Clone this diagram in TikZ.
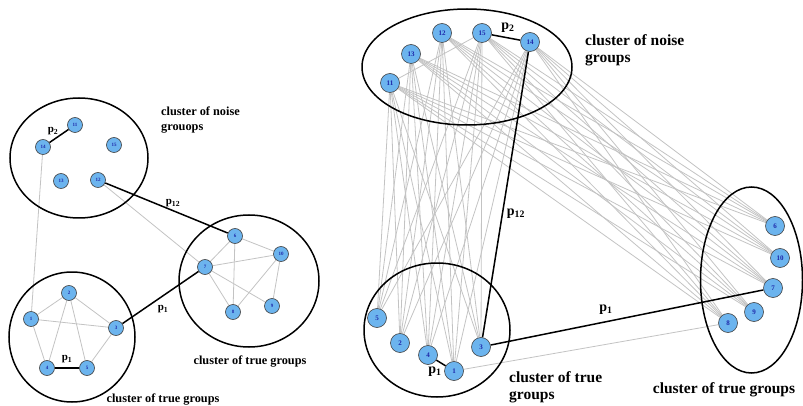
\documentclass[tikz,border=0pt]{standalone}
\usepackage{fontspec}
\setmainfont{Liberation Serif}
\usetikzlibrary{backgrounds}
\definecolor{nodefill}{RGB}{108,180,238}
\definecolor{numcol}{RGB}{30,40,170}
\definecolor{edgegray}{RGB}{195,195,195}
\tikzset{
 sn/.style={circle, draw=black!75, fill=nodefill, line width=0.6pt, minimum size=15pt, inner sep=0pt, text=numcol, font=\bfseries\fontsize{5}{5}\selectfont},
 bn/.style={sn, minimum size=19pt, font=\bfseries\fontsize{7}{7}\selectfont},
 weak/.style={draw=edgegray, line width=0.8pt},
 strong/.style={draw=black, line width=1.5pt},
 clus/.style={draw=black, line width=1.5pt},
 lbl/.style={font=\bfseries\fontsize{12.3}{15}\selectfont, align=left, inner sep=0pt},
 biglbl/.style={font=\bfseries\fontsize{15.5}{17}\selectfont, align=left, inner sep=0pt},
 plbl/.style={font=\bfseries\fontsize{11}{11}\selectfont, inner sep=0pt},
 bplbl/.style={font=\bfseries\fontsize{14}{14}\selectfont, inner sep=0pt},
}
\begin{document}
\begin{tikzpicture}[x=1pt,y=-1pt]
\useasboundingbox (0,0) rectangle (803,406);
% ---------- left panel clusters ----------
\draw[clus] (79,158) ellipse [x radius=69, y radius=60];
\draw[clus] (72,337) ellipse [x radius=63, y radius=65];
\draw[clus] (249,281) ellipse [x radius=70, y radius=66];
% ---------- right panel clusters ----------
\draw[clus] (467,67) ellipse [x radius=105, y radius=58];
\draw[clus] (437,330) ellipse [x radius=73, y radius=67];
\draw[clus] (751.5,280) ellipse [x radius=51, y radius=93];
% ---------- left panel nodes ----------
\node[sn] (L11) at (75,125) {11};
\node[sn] (L14) at (43,147) {14};
\node[sn] (L15) at (114,145) {15};
\node[sn] (L13) at (61,181) {13};
\node[sn] (L12) at (98,180) {12};
\node[sn] (L2) at (69,293) {2};
\node[sn] (L1) at (31,319) {1};
\node[sn] (L3) at (116,328) {3};
\node[sn] (L4) at (47,368) {4};
\node[sn] (L5) at (87,368) {5};
\node[sn] (L6) at (235,236) {6};
\node[sn] (L10) at (281,254) {10};
\node[sn] (L7) at (205,267) {7};
\node[sn] (L9) at (272,306) {9};
\node[sn] (L8) at (233,312) {8};
% ---------- right panel nodes ----------
\node[bn] (R12) at (442,33) {12};
\node[bn] (R15) at (482,33) {15};
\node[bn] (R14) at (530,42) {14};
\node[bn] (R13) at (411,54) {13};
\node[bn] (R11) at (390,83) {11};
\node[bn] (R5) at (377,318) {5};
\node[bn] (R2) at (400,343) {2};
\node[bn] (R4) at (428,355) {4};
\node[bn] (R1) at (454,371) {1};
\node[bn] (R3) at (481,347) {3};
\node[bn] (R6) at (775,226) {6};
\node[bn] (R10) at (780,258) {10};
\node[bn] (R7) at (773,288) {7};
\node[bn] (R9) at (754,312) {9};
\node[bn] (R8) at (728,323) {8};
% ---------- edges ----------
\begin{scope}[on background layer]
 % left panel
 \foreach \a/\b in {1/2, 2/3, 1/3, 1/4, 2/4, 2/5, 3/5, 6/7, 6/10, 6/8, 7/10, 7/8, 7/9, 10/8, 10/9, 14/1, 12/7}
   \draw[weak] (L\a) -- (L\b);
 \draw[strong] (L14) -- (L11);
 \draw[strong] (L12) -- (L6);
 \draw[strong] (L3) -- (L7);
 \draw[strong] (L4) -- (L5);
 % right panel
 \foreach \a in {11,12,13,14,15}
   \foreach \b in {1,...,10}
     \draw[weak] (R\a) -- (R\b);
 \draw[weak] (R11) -- (R15);
 \draw[weak] (R1) -- (R8);
 \draw[strong] (R15) -- (R14);
 \draw[strong] (R14) -- (R3);
 \draw[strong] (R3) -- (R7);
 \draw[strong] (R4) -- (R1);
\end{scope}
% ---------- labels left ----------
\node[plbl] (lp2) at (53,131) {p\textsubscript{2}};
\node[plbl] (lp12) at (173,203) {p\textsubscript{12}};
\node[plbl] (lp1a) at (163,309) {p\textsubscript{1}};
\node[plbl] (lp1b) at (67,359) {p\textsubscript{1}};
\node[lbl, anchor=north west] (lnoise) at (161,107) {cluster of noise\\grouops};
\node[lbl] (ltrue1) at (250,362) {cluster of true groups};
\node[lbl] (ltrue2) at (163,400) {cluster of true groups};
% ---------- labels right ----------
\node[bplbl] (rp2) at (508,28) {p\textsubscript{2}};
\node[bplbl] (rp12) at (516,214) {p\textsubscript{12}};
\node[bplbl] (rp1a) at (606,310) {p\textsubscript{1}};
\node[bplbl] (rp1b) at (435,372) {p\textsubscript{1}};
\node[biglbl, anchor=north west] (rnoise) at (585,34) {cluster of noise\\groups};
\node[biglbl, anchor=north west] (rtrue1) at (509,371) {cluster of true\\groups};
\node[biglbl] (rtrue2) at (724,390) {cluster of true groups};
\end{tikzpicture}
\end{document}
